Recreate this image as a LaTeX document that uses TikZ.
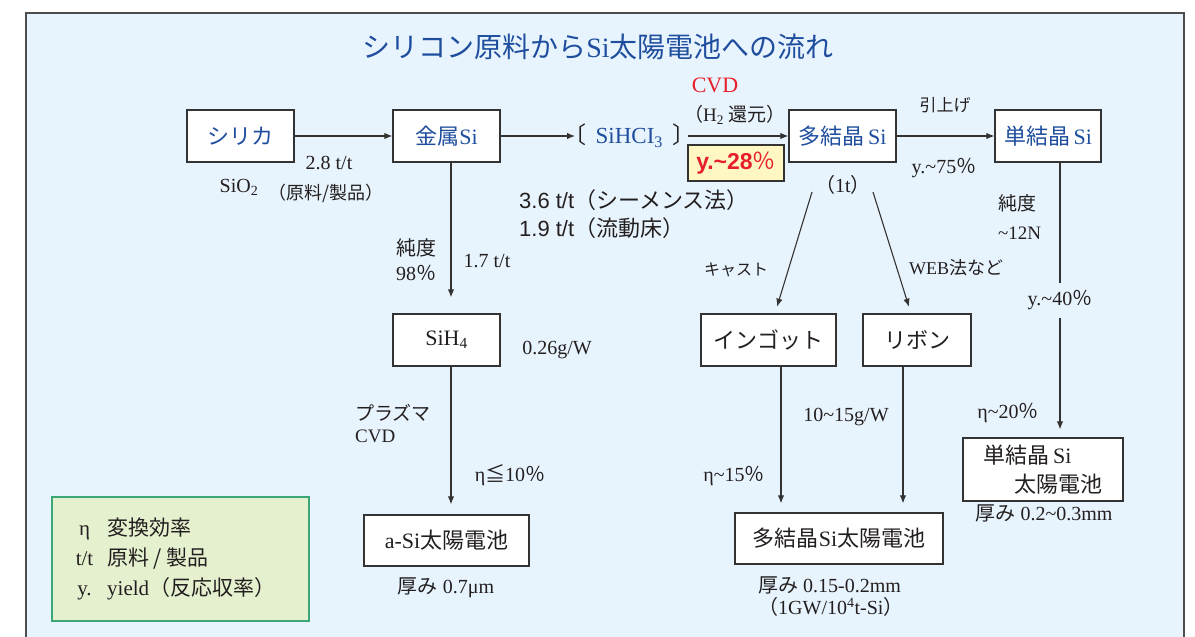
\documentclass[tikz,border=0pt]{standalone}
\usepackage{fontspec}
\setmainfont{Liberation Serif}
\newfontfamily\jp{Noto Sans CJK JP}
\newfontfamily\ars{Liberation Sans}
\usetikzlibrary{arrows.meta,calc}
\definecolor{bgc}{HTML}{E8F4FD}
\definecolor{framec}{HTML}{4D4D4D}
\definecolor{boxc}{HTML}{333333}
\definecolor{linec}{HTML}{333333}
\definecolor{txt}{HTML}{231F20}
\definecolor{blu}{HTML}{1F4E9F}
\definecolor{redt}{HTML}{E6202A}
\definecolor{yel}{HTML}{FFF7C2}
\definecolor{legf}{HTML}{E5F0CE}
\definecolor{legb}{HTML}{3BA776}
\newcommand\J[1]{{\jp #1}}
\newcommand\wv{\textasciitilde}
\newcommand\fsz[2]{\fontsize{#1}{#2}\selectfont}
\tikzset{
  box/.style={draw=boxc, line width=1.3pt, fill=white, minimum height=52pt, inner sep=0pt, font=\fsz{22}{26}},
  arr/.style={-{Latex[length=8pt,width=6.5pt]}, line width=1.1pt, draw=linec},
  lab/.style={inner sep=0pt, text=txt, font=\fsz{20}{24}},
}
\begin{document}
\begin{tikzpicture}[x=1pt,y=-1pt]
\useasboundingbox (0,0) rectangle (1195,637);
\fill[bgc] (26,13) rectangle (1184,637);
\draw[framec, line width=1.6pt] (26,640) -- (26,13) -- (1184,13) -- (1184,640);

\node[lab, text=blu, font=\fsz{28}{33}] (title) at (598,47) {\J{シリコン原料から}Si\J{太陽電池への流れ}};

% top row
\node[box, minimum width=107pt, text=blu] (silica) at (240.5,136) {\J{シリカ}};
\node[box, minimum width=107pt, text=blu] (metal) at (446.5,136) {\J{金属}Si};
\node[lab, anchor=west, font=\fsz{23}{27}] (sihcl) at (575,136) {\J{\hspace*{-0.5em}〔}\hspace{9pt}\textcolor{blu}{SiHCI\textsubscript{3}}\hspace{9pt}\J{〕\hspace*{-0.3em}}};
\node[lab, text=redt, font=\fsz{22}{26}] (cvd) at (715,85) {CVD};
\node[lab, font=\fsz{19}{23}] (h2) at (735,115) {\J{（}H\textsubscript{2} \J{還元）}};
\node[draw=boxc, fill=yel, line width=1.2pt, minimum width=96pt, minimum height=36pt, inner sep=0pt, text=redt, font=\ars\bfseries\fsz{23}{27}] (y28) at (736,163) {y.\wv28{\jp\mdseries ％}};
\node[box, minimum width=107pt, text=blu] (poly) at (842.5,136) {\J{多結晶}\,Si};
\node[box, minimum width=106pt, text=blu] (mono) at (1048,136) {\J{単結晶}\,Si};

\draw[arr] (silica) -- (metal);
\draw[arr] (metal) -- (sihcl);
\draw[arr] (sihcl) -- (poly);
\draw[arr] (poly) -- (mono);

\node[lab] (l28) at (329,163) {2.8 t/t};
\node[lab] (sio2) at (239,187) {SiO\textsubscript{2}};
\node[lab, font=\fsz{18}{22}] (gen) at (326,193) {\J{（原料/製品）}};
\node[lab] (t1) at (843,185) {\J{（}1t\J{）}};
\node[lab, font=\jp\fsz{17}{20}] (hiki) at (945,105) {引上げ};
\node[lab] (y75) at (944,168) {y.\wv75\J{％}};
\node[lab, anchor=west, font=\ars\fsz{22}{26}] (s36) at (519,200) {3.6 t/t\J{（シーメンス法）}};
\node[lab, anchor=west, font=\ars\fsz{22}{26}] (s19) at (519,228) {1.9 t/t\J{（流動床）}};

% a-Si branch
\node[lab, align=left, font=\fsz{20}{25}] (pur) at (416,260) {\J{純度}\\98\J{％}};
\node[lab] (l17) at (487,261) {1.7 t/t};
\node[box, minimum width=107pt, text=txt] (sih4) at (446.5,340) {SiH\textsubscript{4}};
\node[lab] (g026) at (557,350) {0.26g/W};
\node[lab, align=left, anchor=north west, font=\fsz{19}{22}] (plasma) at (355,404) {\J{プラズマ}\\CVD};
\node[lab] (eta10) at (510,475) {η\J{≦}10\J{％}};
\node[box, minimum width=165pt, minimum height=51pt, text=txt] (asi) at (446.5,540.5) {a-Si\J{太陽電池}};
\node[lab] (th07) at (446,588) {\J{厚み} 0.7μm};
\coordinate (k1) at ($(metal.south)+(4.5,0)$);
\coordinate (k2) at ($(sih4.south)+(4.5,0)$);
\draw[arr, shorten >=16pt] (k1) -- (k1 |- sih4.north);
\draw[arr, shorten >=10pt] (k2) -- (k2 |- asi.north);

% poly branch
\coordinate (c1) at (812,192);
\coordinate (c2) at (873,192);
\node[lab, font=\jp\fsz{16}{20}] (cast) at (736,270) {キャスト};
\node[lab, font=\fsz{18}{22}] (web) at (956,268) {WEB\J{法など}};
\node[box, minimum width=135pt, text=txt] (ingot) at (768.5,340) {\J{インゴット}};
\node[box, minimum width=108pt, text=txt] (ribbon) at (917,340) {\J{リボン}};
\draw[arr, shorten >=7pt] (c1) -- ($(ingot.north)+(6.5,0)$);
\draw[arr, shorten >=7pt] (c2) -- ($(ribbon.north)+(-6,0)$);
\node[box, minimum width=208pt, minimum height=51pt, text=txt] (pcell) at (839,538.5) {\J{多結晶}Si\J{太陽電池}};
\coordinate (i1) at ($(ingot.south)+(12.5,0)$);
\coordinate (r1) at ($(ribbon.south)+(-14,0)$);
\draw[arr, shorten >=9pt] (i1) -- (i1 |- pcell.north);
\draw[arr, shorten >=9pt] (r1) -- (r1 |- pcell.north);
\node[lab] (g1015) at (846,417) {10\wv15g/W};
\node[lab] (eta15) at (734,476) {η\wv15\J{％}};
\node[lab, align=left, anchor=north west, font=\fsz{20}{22}] (th015) at (758,577) {\J{厚み} 0.15-0.2mm\\\J{（}1GW/10\textsuperscript{4}t-Si\J{）}};

% mono branch
\node[lab, align=left, anchor=west, font=\fsz{19}{29}] (pur2) at (998,217) {\J{純度}\\\wv12N};
\node[box, minimum width=160pt, minimum height=63pt, align=left, font=\fsz{22}{29}, text=txt] (mcell) at (1043,469.5) {\J{単結晶}\,Si\\\hspace*{31pt}\J{太陽電池}};
\coordinate (m1) at ($(mono.south)+(12,0)$);
\draw[arr, shorten >=8pt] (m1) -- node[lab, fill=bgc, minimum height=35pt, inner xsep=3pt, pos=0.5] (y40) {y.\wv40\J{％}} (m1 |- mcell.north);
\node[lab] (eta20) at (1008,413) {η\wv20\J{％}};
\node[lab] (th023) at (1044,513) {\J{厚み} 0.2\wv0.3mm};

% legend
\node[draw=legb, fill=legf, line width=1.3pt, minimum width=257pt, minimum height=124pt, inner sep=0pt, font=\fsz{21}{30}, text=txt] (legend) at (180.5,559) {\begin{tabular}{@{}c@{\hspace{14pt}}l@{}}η & \J{変換効率}\\ t/t & \J{原料 / 製品}\\ y. & yield\J{（反応収率）}\end{tabular}\hspace*{10pt}};
\end{tikzpicture}
\end{document}
